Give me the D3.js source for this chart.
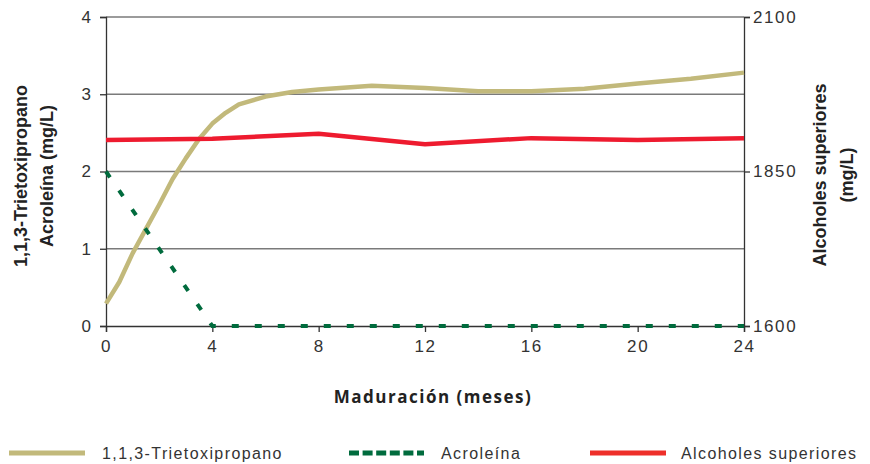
<!DOCTYPE html>
<html><head><meta charset="utf-8">
<script src="https://cdn.jsdelivr.net/npm/d3@7"></script>
<style>body{margin:0;background:#fff}svg{display:block}</style>
</head><body>
<script>
// Data
const trietoxiMonths = [0,0.5,1,2,2.5,3,3.5,4,4.5,5,6,7,8,10,12,14,16,18,20,22,24];
const trietoxiValues = [0.29,0.57,0.94,1.57,1.9,2.17,2.42,2.62,2.76,2.87,2.97,3.03,3.06,3.11,3.08,3.04,3.04,3.07,3.14,3.2,3.28];
const acroleinaMonths = [0,4,8,12,16,20,24];
const acroleinaValues = [2.0,0,0,0,0,0,0];
const alcoholesMonths = [0,4,8,12,16,20,24];
const alcoholesValues = [1901,1903,1911,1894,1904,1901,1904];
const xTicks = [0,4,8,12,16,20,24];
const yLeftTicks = [0,1,2,3,4];
const yRightTicks = [1600,1850,2100];

const W=870,H=464;
const svg=d3.select("body").append("svg").attr("width",W).attr("height",H);
const x=d3.scaleLinear().domain([0,24]).range([106,744]);
const yL=d3.scaleLinear().domain([0,4]).range([326,17]);
const yR=d3.scaleLinear().domain([1600,2100]).range([326,17]);
const font="'Liberation Sans', Arial, sans-serif";
const txt="#333";

// gridlines
svg.append("g").selectAll("line").data(yLeftTicks.filter(d=>d>0)).join("line")
  .attr("x1",x(0)).attr("x2",x(24)).attr("y1",d=>yL(d)).attr("y2",d=>yL(d))
  .attr("stroke","#7a7a7a").attr("stroke-width",1.3);

// axes
const gx=svg.append("g").attr("transform",`translate(0,${yL(0)})`)
  .call(d3.axisBottom(x).tickValues(xTicks).tickSize(6).tickPadding(8));
const gl=svg.append("g").attr("transform",`translate(${x(0)},0)`)
  .call(d3.axisLeft(yL).tickValues(yLeftTicks).tickSize(6).tickPadding(9).tickFormat(d3.format("d")));
const gr=svg.append("g").attr("transform",`translate(${x(24)},0)`)
  .call(d3.axisRight(yR).tickValues(yRightTicks).tickSize(6).tickPadding(3).tickFormat(d3.format("d")));
[gx,gl,gr].forEach(g=>{
  g.select(".domain").attr("stroke","#333").attr("stroke-width",1.3);
  g.selectAll(".tick line").attr("stroke","#333").attr("stroke-width",1.3);
  g.selectAll("text").attr("font-family",font).attr("font-size",17).attr("fill",txt)
    .attr("letter-spacing","1.6px");
});
gl.selectAll("text").attr("letter-spacing","0px");

// lines
const lineT=d3.line().x((d,i)=>x(trietoxiMonths[i])).y(d=>yL(d));
svg.append("path").datum(trietoxiValues).attr("d",lineT)
  .attr("fill","none").attr("stroke","#c2b97b").attr("stroke-width",4.5).attr("stroke-linejoin","round");
const lineA=d3.line().x((d,i)=>x(acroleinaMonths[i])).y(d=>yL(d));
svg.append("path").datum(acroleinaValues).attr("d",lineA)
  .attr("fill","none").attr("stroke","#006b3d").attr("stroke-width",4).attr("stroke-dasharray","7,16");
const lineR=d3.line().x((d,i)=>x(alcoholesMonths[i])).y(d=>yR(d));
svg.append("path").datum(alcoholesValues).attr("d",lineR)
  .attr("fill","none").attr("stroke","#ee1b2f").attr("stroke-width",4.5).attr("stroke-linejoin","round");

// axis titles
svg.append("text").attr("x",433).attr("y",403).attr("text-anchor","middle")
  .attr("font-family","'Open Sans', sans-serif").attr("font-weight","bold").attr("font-size",17)
  .attr("letter-spacing","1.5px").attr("fill","#222")
  .text("Maduración (meses)");
const bf="'Liberation Sans', Arial, sans-serif";
const lt=svg.append("text").attr("transform","translate(27,176) rotate(-90)").attr("text-anchor","middle")
  .attr("font-family",bf).attr("font-weight","bold").attr("font-size",18).attr("fill","#222");
lt.append("tspan").attr("x",0).attr("y",0).text("1,1,3-Trietoxipropano");
lt.append("tspan").attr("x",0).attr("y",26).text("Acroleína (mg/L)");
const rt=svg.append("text").attr("transform","translate(826,175) rotate(-90)").attr("text-anchor","middle")
  .attr("font-family",bf).attr("font-weight","bold").attr("font-size",18).attr("fill","#222");
rt.append("tspan").attr("x",0).attr("y",0).text("Alcoholes superiores");
rt.append("tspan").attr("x",0).attr("y",27).text("(mg/L)");

// legend
const legend=[
  {name:"1,1,3-Trietoxipropano",color:"#c2b97b",dash:null,x1:9,x2:85,tx:102},
  {name:"Acroleína",color:"#006b3d",dash:"10,3.6",x1:349,x2:424,tx:441},
  {name:"Alcoholes superiores",color:"#ee2f2a",dash:null,x1:590,x2:666,tx:681}
];
const lg=svg.append("g");
lg.selectAll("line").data(legend).join("line")
  .attr("x1",d=>d.x1).attr("x2",d=>d.x2).attr("y1",453).attr("y2",453)
  .attr("stroke",d=>d.color).attr("stroke-width",5).attr("stroke-dasharray",d=>d.dash);
lg.selectAll("text").data(legend).join("text")
  .attr("x",d=>d.tx).attr("y",459).attr("font-family",font).attr("font-size",16)
  .attr("letter-spacing","1.4px").attr("fill","#333")
  .text(d=>d.name);
</script>
</body></html>
